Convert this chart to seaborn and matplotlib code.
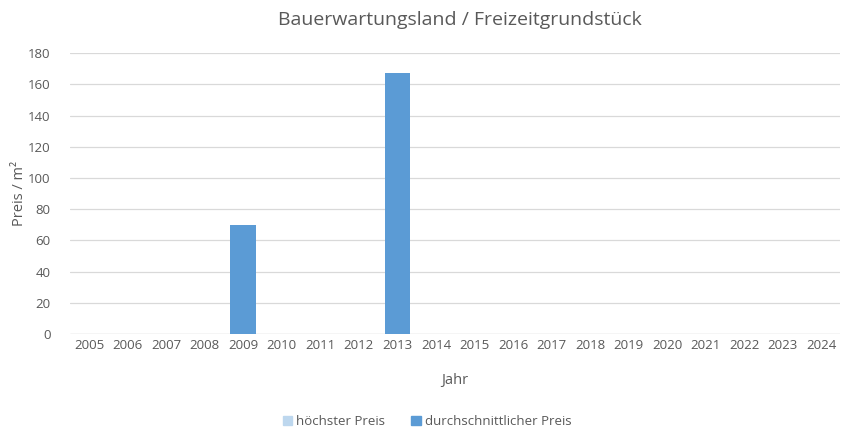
import numpy as np
import pandas as pd
import matplotlib
matplotlib.use("Agg")
import matplotlib.pyplot as plt
import seaborn as sns

# Daten
jahre = [str(j) for j in range(2005, 2025)]
hoechster_preis = [0, 0, 0, 0, 0, 0, 0, 0, 0, 0, 0, 0, 0, 0, 0, 0, 0, 0, 0, 0]
durchschnitt_preis = [0, 0, 0, 0, 70, 0, 0, 0, 167, 0, 0, 0, 0, 0, 0, 0, 0, 0, 0, 0]
serien = ["höchster Preis", "durchschnittlicher Preis"]
farben = ["#BDD7EE", "#5B9BD5"]

df = pd.DataFrame({
    "Jahr": jahre * 2,
    "Preis": hoechster_preis + durchschnitt_preis,
    "Serie": [serien[0]] * len(jahre) + [serien[1]] * len(jahre),
})

sns.set_style("white")
plt.rcParams["font.family"] = ["Open Sans", "DejaVu Sans"]
grau = "#595959"

fig = plt.figure(figsize=(8.54, 4.36), dpi=100)
ax = fig.add_axes([0.082, 0.234, 0.902, 0.644])

sns.barplot(data=df, x="Jahr", y="Preis", hue="Serie", hue_order=serien,
            palette=farben, dodge=False, width=0.67, saturation=1,
            order=jahre, ax=ax, legend=False, linewidth=0)

ax.set_ylim(0, 180)
ax.set_yticks(np.arange(0, 181, 20))
ax.yaxis.grid(True, color="#D9D9D9", linewidth=0.9)
ax.set_axisbelow(True)
for s in ax.spines.values():
    s.set_visible(False)
ax.axhline(0, color="#D9D9D9", linewidth=0.9, zorder=0)
ax.tick_params(axis="both", length=0, colors=grau, labelsize=9.5)
ax.tick_params(axis="y", pad=14)
ax.set_xlabel("Jahr", color=grau, fontsize=10.5, labelpad=15)
ax.set_ylabel("Preis / m²", color=grau, fontsize=10.5, labelpad=1)

fig.suptitle("Bauerwartungsland / Freizeitgrundstück", x=0.538, y=0.975,
             color=grau, fontsize=14)

handles = [plt.Rectangle((0, 0), 1, 1, color=c) for c in farben]
fig.legend(handles, serien, loc="center", bbox_to_anchor=(0.5, 0.033), ncol=2,
           frameon=False, fontsize=9.5, handlelength=0.7, handleheight=0.7,
           handletextpad=0.3, columnspacing=2.0, labelcolor=grau)

fig.savefig("out.png", dpi=100)
